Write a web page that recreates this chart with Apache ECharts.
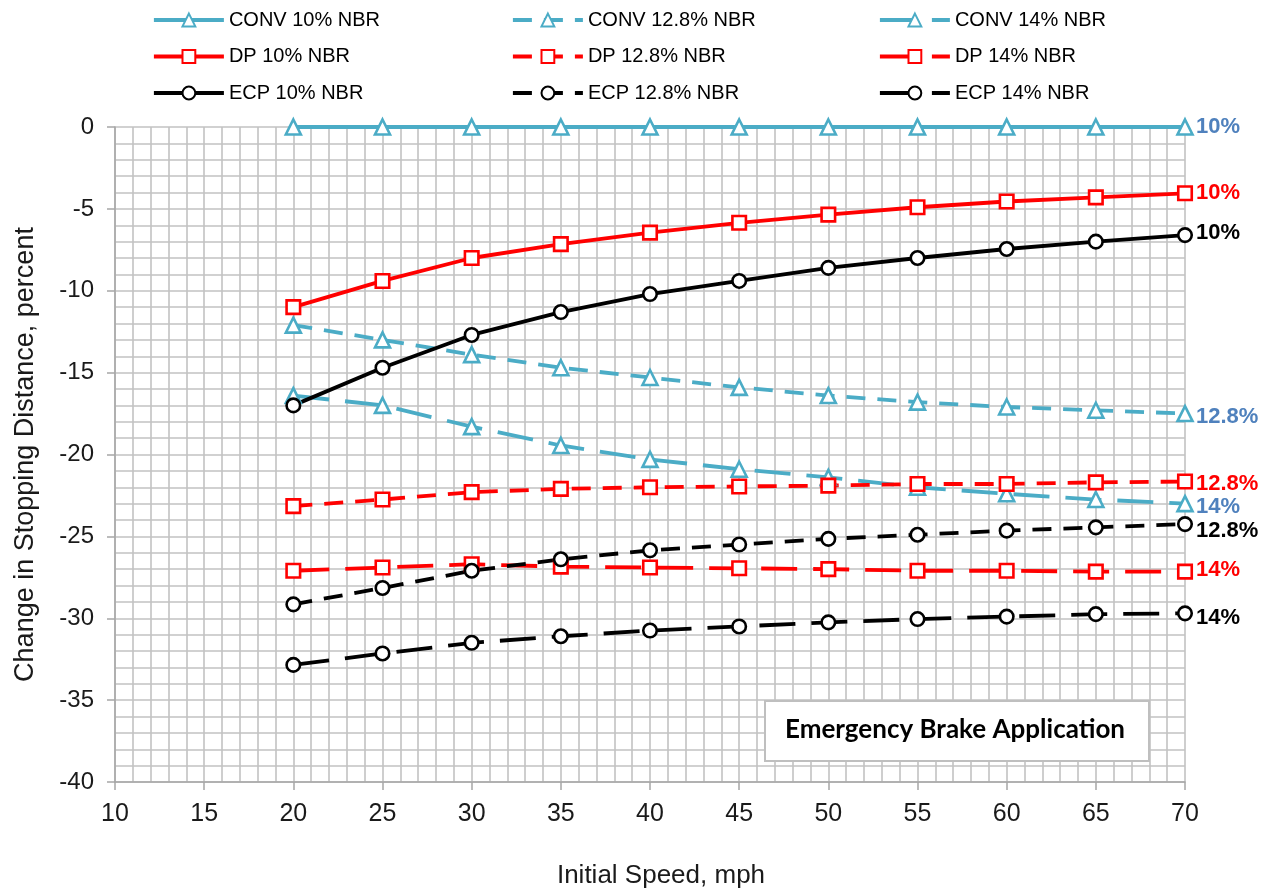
<!DOCTYPE html>
<html>
<head>
<meta charset="utf-8">
<script src="https://cdn.jsdelivr.net/npm/echarts@6/dist/echarts.min.js"></script>
<style>html,body{margin:0;padding:0;background:#fff}#c{width:1271px;height:894px}</style>
</head>
<body>
<div id="c"></div>
<script>
const speeds = [20, 25, 30, 35, 40, 45, 50, 55, 60, 65, 70];
const xTicks = [10, 15, 20, 25, 30, 35, 40, 45, 50, 55, 60, 65, 70];
const yTicks = [0, -5, -10, -15, -20, -25, -30, -35, -40];

const conv10  = [0, 0, 0, 0, 0, 0, 0, 0, 0, 0, 0];
const conv128 = [-12.1, -13.0, -13.9, -14.7, -15.3, -15.9, -16.4, -16.8, -17.1, -17.3, -17.5];
const conv14  = [-16.4, -17.0, -18.3, -19.45, -20.3, -20.9, -21.4, -22.0, -22.4, -22.75, -23.0];
const dp10    = [-11.0, -9.4, -8.0, -7.15, -6.45, -5.85, -5.35, -4.9, -4.55, -4.3, -4.05];
const dp128   = [-23.15, -22.75, -22.3, -22.1, -22.0, -21.95, -21.9, -21.8, -21.8, -21.7, -21.65];
const dp14    = [-27.1, -26.9, -26.7, -26.85, -26.9, -26.95, -27.0, -27.1, -27.1, -27.15, -27.15];
const ecp10   = [-17.0, -14.7, -12.7, -11.3, -10.2, -9.4, -8.6, -8.0, -7.45, -7.0, -6.6];
const ecp128  = [-29.15, -28.15, -27.1, -26.4, -25.85, -25.5, -25.15, -24.9, -24.65, -24.45, -24.25];
const ecp14   = [-32.85, -32.15, -31.5, -31.1, -30.75, -30.5, -30.25, -30.05, -29.9, -29.75, -29.7];

const seriesNames = [
  'CONV 10% NBR', 'CONV 12.8% NBR', 'CONV 14% NBR',
  'DP 10% NBR', 'DP 12.8% NBR', 'DP 14% NBR',
  'ECP 10% NBR', 'ECP 12.8% NBR', 'ECP 14% NBR'
];
const endLabels = ['10%', '12.8%', '14%', '10%', '12.8%', '14%', '10%', '12.8%', '14%'];
const xName = 'Initial Speed, mph';
const yName = 'Change in Stopping Distance, percent';
const boxText = 'Emergency Brake Application';

const values = [conv10, conv128, conv14, dp10, dp128, dp14, ecp10, ecp128, ecp14];
const lineColors = ['#4BACC6', '#4BACC6', '#4BACC6', '#FF0000', '#FF0000', '#FF0000', '#000000', '#000000', '#000000'];
const labelColors = ['#4F81BD', '#4F81BD', '#4F81BD', '#FF0000', '#FF0000', '#FF0000', '#000000', '#000000', '#000000'];
const symbols = ['triangle', 'triangle', 'triangle', 'rect', 'rect', 'rect', 'circle', 'circle', 'circle'];
const dashes = ['solid', [19, 12], [36, 16], 'solid', [19, 12], [36, 16], 'solid', [19, 12], [36, 16]];
const labelDy = [0, 3, 3, 0, 2, -2, -2, 7, 5];

const FONT = '"Liberation Sans", Arial, sans-serif';

const series = values.map((vals, i) => ({
  name: seriesNames[i],
  type: 'line',
  data: speeds.map((s, j) => [s, vals[j]]),
  symbol: symbols[i],
  symbolSize: symbols[i] === 'triangle' ? 15 : 13.5,
  showAllSymbol: true,
  lineStyle: { color: lineColors[i], width: 3.8, type: dashes[i] },
  itemStyle: { color: '#ffffff', borderColor: lineColors[i], borderWidth: 2.6 },
  endLabel: {
    show: true,
    formatter: endLabels[i],
    color: labelColors[i],
    fontFamily: FONT,
    fontWeight: 'bold',
    fontSize: 22,
    distance: 11,
    offset: [0, labelDy[i]]
  },
  emphasis: { disabled: true },
  z: 3
}));

const legendCol = (names, left) => ({
  orient: 'vertical',
  left: left,
  top: 10,
  padding: 0,
  itemWidth: 70,
  itemHeight: 16,
  itemGap: 16.5,
  data: names,
  selectedMode: false,
  lineStyle: { width: 3.8 },
  textStyle: { fontFamily: FONT, fontSize: 20, color: '#000', lineHeight: 20, padding: [0, 0, 0, 0] }
});

const axisCommon = {
  nameLocation: 'middle',
  axisLine: { show: true, onZero: false, lineStyle: { color: '#a6a6a6', width: 1.5 } },
  axisTick: { show: true, length: 8, lineStyle: { color: '#a6a6a6', width: 1.5 } },
  splitLine: { show: true, lineStyle: { color: '#c2c2c2', width: 1.6 } },
  minorTick: { show: false, splitNumber: 5 },
  minorSplitLine: { show: true, lineStyle: { color: '#c2c2c2', width: 1.6 } }
};

const chart = echarts.init(document.getElementById('c'), null, { renderer: 'canvas' });
chart.setOption({
  animation: false,
  backgroundColor: '#ffffff',
  legend: [
    legendCol([seriesNames[0], seriesNames[3], seriesNames[6]], 152),
    legendCol([seriesNames[1], seriesNames[4], seriesNames[7]], 511),
    legendCol([seriesNames[2], seriesNames[5], seriesNames[8]], 878)
  ],
  grid: { left: 115, right: 86, top: 127, bottom: 106, containLabel: false },
  xAxis: Object.assign({}, axisCommon, {
    type: 'value',
    min: xTicks[0],
    max: xTicks[xTicks.length - 1],
    interval: 5,
    name: xName,
    nameGap: 81,
    nameTextStyle: { fontFamily: FONT, fontSize: 26, color: '#1a1a1a', padding: [0, 0, 0, 22] },
    axisLabel: { fontFamily: FONT, fontSize: 25, color: '#1a1a1a', margin: 20 }
  }),
  yAxis: Object.assign({}, axisCommon, {
    type: 'value',
    min: yTicks[yTicks.length - 1],
    max: yTicks[0],
    interval: 5,
    name: yName,
    nameGap: 76,
    nameTextStyle: { fontFamily: FONT, fontSize: 27, color: '#1a1a1a' },
    axisLabel: { fontFamily: FONT, fontSize: 24, color: '#1a1a1a', margin: 21 }
  }),
  graphic: [
    { type: 'rect', z: 100, shape: { x: 765, y: 701, width: 384, height: 60 },
      style: { fill: '#ffffff', stroke: '#bfbfbf', lineWidth: 2 } },
    { type: 'text', z: 101, x: 955, y: 730,
      style: { text: boxText, fill: '#000', fontFamily: 'Lato, "Open Sans", sans-serif', fontWeight: 'bold', fontSize: 26,
               align: 'center', verticalAlign: 'middle' } }
  ],
  series: series
});
</script>
</body>
</html>
